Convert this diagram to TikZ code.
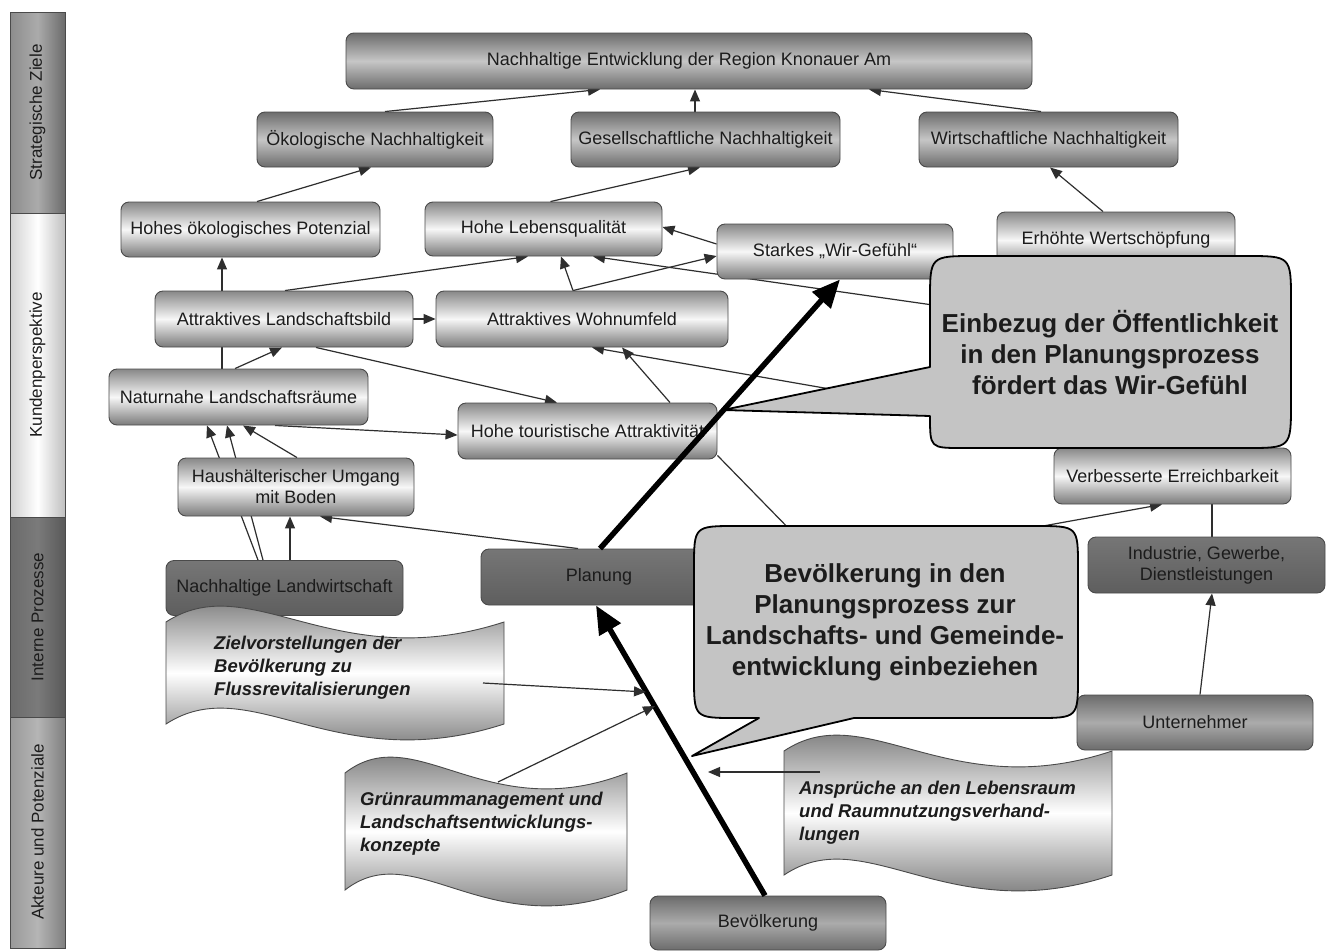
\documentclass[tikz,border=0pt]{standalone}
\usepackage{fontspec}
\setmainfont{Liberation Sans}
\usetikzlibrary{arrows.meta}
\pgfdeclarelayer{background}
\pgfsetlayers{background,main}

\definecolor{txt}{HTML}{1C1C1C}
\definecolor{edgegray}{HTML}{4A4A4A}
\definecolor{linegray}{HTML}{2E2E2E}
\definecolor{sgDark}{HTML}{6C6C6C}
\definecolor{sgLight}{HTML}{C6C6C6}
\definecolor{kpDark}{HTML}{888888}
\definecolor{kpLight}{HTML}{F7F7F7}
\definecolor{ipDark}{HTML}{5E5E5E}
\definecolor{ipLight}{HTML}{767676}
\definecolor{apDark}{HTML}{6C6C6C}
\definecolor{apLight}{HTML}{ABABAB}
\definecolor{waveDark}{HTML}{4A4A4A}
\definecolor{calloutfill}{HTML}{C4C4C4}

\tikzset{
  box/.style={draw=edgegray, line width=0.9pt, rounded corners=8pt, align=center,
    text=txt, font=\fontsize{18}{21}\selectfont, inner sep=3pt},
  sbox/.style={box, top color=sgDark, bottom color=sgDark, middle color=sgLight},
  kbox/.style={box, top color=kpDark, bottom color=kpDark!90!black, middle color=kpLight},
  ibox/.style={box, top color=ipLight, bottom color=ipDark},
  abox/.style={box, top color=apDark, bottom color=apDark, middle color=apLight},
  conn/.style={draw=linegray, line width=1.2pt},
  arr/.style={conn, -{Triangle[length=12pt,width=10pt]}},
  bigarr/.style={draw=black, line width=5.5pt, -{Triangle[length=28pt,width=24pt]}},
  wave/.style={draw=edgegray, line width=0.9pt, top color=waveDark, bottom color=waveDark, middle color=white},
  wavetext/.style={anchor=west, inner sep=0pt, align=left, text=txt,
    font=\fontsize{18.5}{23}\selectfont\bfseries\itshape},
  callout/.style={draw=black, line width=1.8pt, fill=calloutfill, line join=round},
  callouttext/.style={align=center, text=txt, font=\fontsize{26}{31}\selectfont\bfseries},
  barseg/.style={draw=edgegray, line width=0.8pt},
  barlabel/.style={rotate=90, text=txt, font=\fontsize{17}{20}\selectfont},
}

\begin{document}
\begin{tikzpicture}[x=1pt,y=-1pt]
\useasboundingbox (0,0) rectangle (1330,951);
\begin{pgfonlayer}{background}
  \fill[white] (0,0) rectangle (1330,951);
\end{pgfonlayer}

% ---------- left bar ----------
\path[barseg, left color=black!45, right color=black!58, middle color=black!33] (10,12) rectangle (65,213);
\path[barseg, left color=black!18, right color=black!25, middle color=white] (10,213) rectangle (65,517);
\path[barseg, left color=black!58, right color=black!65, middle color=black!52] (10,517) rectangle (65,717);
\path[barseg, left color=black!40, right color=black!50, middle color=black!29] (10,717) rectangle (65,948);
\node[barlabel] (lsz) at (37.5,112.5) {Strategische Ziele};
\node[barlabel] (lkp) at (37.5,365) {Kundenperspektive};
\node[barlabel] (lip) at (37.5,617) {Interne Prozesse};
\node[barlabel] (lap) at (37.5,832) {Akteure und Potenziale};

% ---------- boxes ----------
\node[sbox, minimum width=686pt, minimum height=56pt] (n0) at (689,61) {Nachhaltige Entwicklung der Region Knonauer Am};
\node[sbox, minimum width=236pt, minimum height=55pt] (oek) at (375,139.5) {Ökologische Nachhaltigkeit};
\node[sbox, minimum width=269pt, minimum height=55pt] (ges) at (705.5,139.5) {Gesellschaftliche Nachhaltigkeit};
\node[sbox, minimum width=259pt, minimum height=55pt] (wir) at (1048.5,139.5) {Wirtschaftliche Nachhaltigkeit};

\node[kbox, minimum width=259pt, minimum height=55pt] (hop) at (250.5,229.5) {Hohes ökologisches Potenzial};
\node[kbox, minimum width=237pt, minimum height=54pt] (hlq) at (543.5,229) {Hohe Lebensqualität};
\node[kbox, minimum width=236pt, minimum height=55pt] (swg) at (835,251.5) {Starkes „Wir-Gefühl“};
\node[kbox, minimum width=238pt, minimum height=56pt] (ews) at (1116,240) {Erhöhte Wertschöpfung};
\node[kbox, minimum width=258pt, minimum height=56pt] (alb) at (284,319) {Attraktives Landschaftsbild};
\node[kbox, minimum width=292pt, minimum height=56pt] (awu) at (582,319) {Attraktives Wohnumfeld};
\node[kbox, minimum width=259pt, minimum height=56pt] (nlr) at (238.5,397) {Naturnahe Landschaftsräume};
\node[kbox, minimum width=259pt, minimum height=56pt] (hta) at (587.5,431) {Hohe touristische Attraktivität};
\node[kbox, minimum width=236pt, minimum height=58pt] (hub) at (296,487) {Haushälterischer Umgang\\mit Boden};
\node[kbox, minimum width=237pt, minimum height=56pt] (ve) at (1172.5,476) {Verbesserte Erreichbarkeit};

\node[ibox, minimum width=237pt, minimum height=55pt] (nlw) at (284.5,588) {Nachhaltige Landwirtschaft};
\node[ibox, minimum width=236pt, minimum height=56pt] (pla) at (599,577) {Planung};
\node[ibox, minimum width=237pt, minimum height=56pt] (ind) at (1206.5,565) {Industrie, Gewerbe,\\Dienstleistungen};

\node[abox, minimum width=236pt, minimum height=55pt] (unt) at (1195,722.5) {Unternehmer};
\node[abox, minimum width=236pt, minimum height=54pt] (bev) at (768,923) {Bevölkerung};

% hidden ends (behind the callouts)
\coordinate (hidA) at (940,306);
\coordinate (hidB) at (870,396);
\coordinate (hidC) at (800,540);

% ---------- thin connectors ----------
\begin{pgfonlayer}{background}
\draw[arr] ([xshift=10pt]oek.north) -- ([xshift=-89pt]n0.south);
\draw[arr] ([xshift=-10.5pt]ges.north) -- ([xshift=6pt]n0.south);
\draw[arr] ([xshift=-7.5pt]wir.north) -- ([xshift=180pt]n0.south);
\draw[arr] ([xshift=6.5pt]hop.north) -- ([xshift=-4pt]oek.south);
\draw[arr] ([xshift=7pt]hlq.north) -- ([xshift=-5.5pt]ges.south);
\draw[arr] ([xshift=-13pt]ews.north) -- ([xshift=1.5pt]wir.south);
\draw[arr] ([xshift=-16.5pt]nlr.north) -- ([xshift=-28.5pt]hop.south);
\draw[arr] ([xshift=1pt]alb.north) -- ([xshift=-15.5pt]hlq.south);
\draw[arr] ([xshift=-9pt]awu.north) -- ([xshift=17.5pt]hlq.south);
\draw[arr] ([xshift=-9pt]awu.north) -- ([yshift=-4.5pt]swg.west);
\draw[arr] ([yshift=7.5pt]swg.west) -- ([yshift=2pt]hlq.east);
\draw[arr] (hidA) -- ([xshift=49.5pt]hlq.south);
\draw[arr] (hidB) -- ([xshift=10pt]awu.south);
\draw[arr] ([xshift=82.5pt]hta.north) -- ([xshift=40pt]awu.south);
\draw[arr] ([xshift=-3.5pt]nlr.north) -- ([xshift=-2pt]alb.south);
\draw[arr] (alb.east) -- (awu.west);
\draw[arr] ([xshift=32pt]alb.south) -- ([xshift=-30.5pt]hta.north);
\draw[arr] ([xshift=36.5pt]nlr.south) -- ([yshift=-4pt]hta.west);
\draw[arr] ([xshift=1pt]hub.north) -- ([xshift=4.5pt]nlr.south);
\draw[arr] ([xshift=-26.5pt]nlw.north) -- ([xshift=-31.5pt]nlr.south);
\draw[arr] ([xshift=-21.5pt]nlw.north) -- ([xshift=-11.5pt]nlr.south);
\draw[arr] ([xshift=5.5pt]nlw.north) -- ([xshift=-6pt]hub.south);
\draw[arr] ([xshift=-21pt]pla.north) -- ([xshift=24pt]hub.south);
\draw[arr] ([yshift=-8pt]pla.east) -- ([xshift=-10.5pt]ve.south);
\draw[conn] ([yshift=4pt]hta.south east) -- (hidC);
\draw[conn] ([xshift=39.5pt]ve.south) -- ([xshift=5.5pt]ind.north);
\draw[arr] ([xshift=5pt]unt.north) -- ([xshift=5.5pt]ind.south);
\end{pgfonlayer}

% ---------- wave shapes ----------
\path[wave] (166,622) .. controls (250.5,567) and (335,677) .. (504,622) -- (504,724)
  .. controls (335,779) and (250.5,669) .. (166,724) -- cycle;
\node[wavetext] (w1t) at (214,668) {Zielvorstellungen der\\Bevölkerung zu\\Flussrevitalisierungen};

\path[wave] (345,773) .. controls (415.5,718) and (486,828) .. (627,773) -- (627,890)
  .. controls (486,945) and (415.5,835) .. (345,890) -- cycle;
\node[wavetext] (w2t) at (360,824) {Grünraummanagement und\\Landschaftsentwicklungs-\\konzepte};

\path[wave] (784,751) .. controls (866,696) and (948,806) .. (1112,751) -- (1112,875)
  .. controls (948,930) and (866,820) .. (784,875) -- cycle;
\node[wavetext] (w3t) at (799,813) {Ansprüche an den Lebensraum\\und Raumnutzungsverhand-\\lungen};

% ---------- callouts ----------
\path[callout] (930,367) -- (930,301) .. controls (930,256) .. (975,256) -- (1246,256)
  .. controls (1291,256) .. (1291,301) -- (1291,403) .. controls (1291,448) .. (1246,448)
  -- (962,448) .. controls (930,448) .. (930,416) -- (723,410) -- cycle;
\node[callouttext] (c1t) at (1110,353) {Einbezug der Öffentlichkeit\\in den Planungsprozess\\fördert das Wir-Gefühl};

\path[callout] (694,568) .. controls (694,526) .. (736,526) -- (1036,526)
  .. controls (1078,526) .. (1078,568) -- (1078,676) .. controls (1078,718) .. (1036,718)
  -- (854,718) -- (692,756) -- (759,718) -- (736,718) .. controls (694,718) .. (694,676) -- cycle;
\node[callouttext] (c2t) at (885,622) {Bevölkerung in den\\Planungsprozess zur\\Landschafts- und Gemeinde-\\entwicklung einbeziehen};

% ---------- thick arrows ----------
\draw[bigarr] ([xshift=-3pt]bev.north) -- ([xshift=-3pt]pla.south);
\draw[bigarr] ([xshift=1pt]pla.north) -- ([xshift=5pt]swg.south);

% ---------- inputs onto the thick arrow ----------
\coordinate (w1s) at (483,683);
\coordinate (t1) at (646,692);
\coordinate (w2s) at (498,782);
\coordinate (t2) at (655,706);
\coordinate (w3s) at (820,772);
\coordinate (t3) at (708,772);
\draw[arr] (w1s) -- (t1);
\draw[arr] (w2s) -- (t2);
\draw[arr] (w3s) -- (t3);
\end{tikzpicture}
\end{document}
